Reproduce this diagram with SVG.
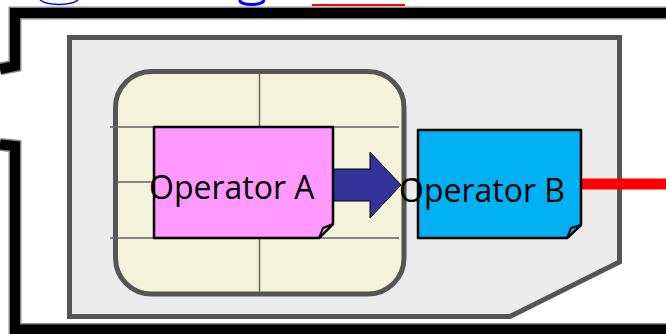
<svg xmlns="http://www.w3.org/2000/svg" width="666" height="334" viewBox="0 0 666 334">
<style>
.frame{fill:none;stroke:#000;stroke-width:10}
.halo{fill:none;stroke:#8a8a8a;stroke-width:13}
.grid{fill:none;stroke:#666;stroke-width:1.500}
.note{stroke:#000;stroke-width:2.500;stroke-linejoin:round}
.fold{stroke:#000;stroke-width:2;stroke-linejoin:round}
.label{font-family:"Open Sans",sans-serif;font-size:32px;fill:#000}
</style>
<rect width="666" height="334" fill="#fff"/>
<g id="clipped-title">
<path d="M40 0C48 6 70 6 78 0" fill="none" stroke="#00f" stroke-width="1.500"/>
<path d="M240 0C239 6 263 6 264 0" fill="none" stroke="#00f" stroke-width="3"/>
<rect x="312" y="4" width="93" height="2" fill="#f00"/>
</g>
<g id="frame">
<path class="halo" d="M0 69L15 66V13H666"/>
<path class="frame" d="M0 69L15 66V13H666"/>
<path class="halo" d="M0 144.500L15 146V329.500H666"/>
<path class="frame" d="M0 144.500L15 146V329.500H666"/>
</g>
<g id="sim-card">
<path d="M69.500 37.500H619.500V262L510 316.500H69.500Z" fill="#ebebeb" stroke="#555" stroke-width="5"/>
</g>
<g id="chip">
<rect x="115.500" y="71.500" width="288.500" height="222.500" rx="36" fill="#f3f3db" stroke="#555" stroke-width="5"/>
<path class="grid" d="M110 127H399M118 182H399M110 238H399M259.500 73V127M259.500 238V292"/>
</g>
<g id="connectors">
<path d="M581 184H666" stroke="#f00" stroke-width="11" fill="none"/>
<path d="M333 169H370V152L401 185L370 218V201H333Z" fill="#333399" stroke="#000" stroke-width="1"/>
</g>
<g id="operator-a">
<path class="note" d="M154 127H333V224L319 238H154Z" fill="#ff99ff"/>
<path class="fold" d="M319 238L323 228L333 224Z" fill="#ff99ff"/>
<text class="label" x="149" y="199">Operator A</text>
</g>
<g id="operator-b">
<path class="note" d="M418 130H581V225L567 238H418Z" fill="#00b0f0"/>
<path class="fold" d="M567 238L571 228L581 225Z" fill="#00b0f0"/>
<text class="label" x="399" y="202">Operator B</text>
</g>
</svg>
